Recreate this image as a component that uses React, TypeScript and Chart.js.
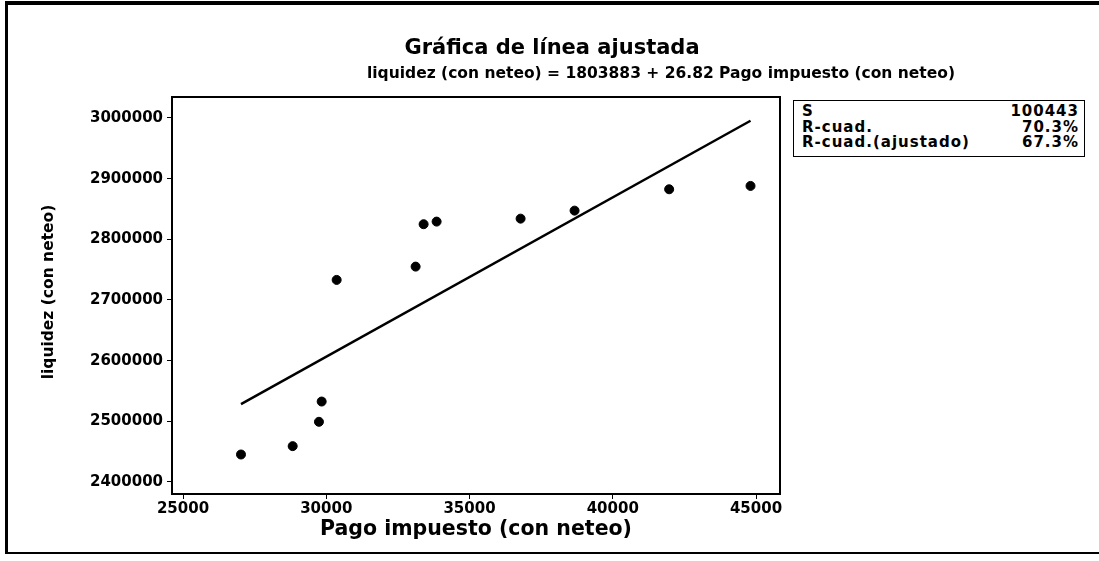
import React, { useEffect, useRef } from "react";
import { Chart, registerables } from "chart.js";

Chart.register(...registerables);

// Data
const pagoImpuesto = [27024, 28828, 29745, 29840, 30363, 33119, 33398, 33852, 36783, 38667, 41968, 44808];
const liquidez = [2445300, 2459100, 2499200, 2532600, 2733100, 2755000, 2824900, 2829200, 2834100, 2847300, 2882500, 2888000];
// fitted line end points as drawn (at min and max of Pago impuesto)
const fitX = [27024, 44808];
const fitY = [2528300, 2995500];
const xTicks = [25000, 30000, 35000, 40000, 45000];
const yTicks = [2400000, 2500000, 2600000, 2700000, 2800000, 2900000, 3000000];
const statLabels = ["S", "R-cuad.", "R-cuad.(ajustado)"];
const statValues = ["100443", "70.3%", "67.3%"];

const W = 1099;
const H = 561;
const FONT = "'DejaVu Sans', 'Noto Sans', sans-serif";

const framePlugin = {
  id: "frameBox",
  afterDraw(chart: any) {
    const { ctx, chartArea: a } = chart;
    ctx.save();
    ctx.strokeStyle = "#000";
    ctx.lineWidth = 2;
    ctx.strokeRect(a.left, a.top, a.right - a.left, a.bottom - a.top);
    ctx.restore();
  },
};

export default function App() {
  const ref = useRef<HTMLCanvasElement | null>(null);

  useEffect(() => {
    if (!ref.current) return;
    const fit = fitX.map((x, i) => ({ x, y: fitY[i] }));
    const pts = pagoImpuesto.map((x, i) => ({ x, y: liquidez[i] }));
    const tickFont = { family: FONT, weight: "bold" as const, size: 15 };

    const chart = new Chart(ref.current, {
      type: "scatter",
      data: {
        datasets: [
          {
            data: fit,
            showLine: true,
            borderColor: "#000",
            borderWidth: 2.5,
            pointRadius: 0,
            fill: false,
          },
          {
            data: pts,
            backgroundColor: "#000",
            borderColor: "#000",
            pointRadius: 4.5,
            pointStyle: "circle",
          },
        ],
      },
      options: {
        responsive: false,
        animation: false,
        layout: { padding: { left: 0, top: 97, right: W - 780, bottom: 0 } },
        plugins: {
          legend: { display: false },
          tooltip: { enabled: false },
          title: { display: false },
        },
        scales: {
          x: {
            type: "linear",
            position: "bottom",
            min: 24616,
            max: 45837,
            afterBuildTicks: (s: any) => {
              s.ticks = xTicks.map((v) => ({ value: v }));
            },
            afterFit: (s: any) => {
              s.height = H - 494;
            },
            ticks: {
              font: tickFont,
              color: "#000",
              padding: 1,
              maxRotation: 0,
              autoSkip: false,
              callback: (v: any) => String(v),
            },
            grid: { drawOnChartArea: false, tickLength: 5, color: "#000", lineWidth: 1 },
            border: { display: true, color: "#000", width: 2 },
          },
          y: {
            type: "linear",
            min: 2380200,
            max: 3034600,
            afterBuildTicks: (s: any) => {
              s.ticks = yTicks.map((v) => ({ value: v }));
            },
            afterFit: (s: any) => {
              s.width = 172;
            },
            ticks: {
              font: tickFont,
              color: "#000",
              padding: 4,
              autoSkip: false,
              callback: (v: any) => String(v),
            },
            grid: { drawOnChartArea: false, tickLength: 5, color: "#000", lineWidth: 1 },
            border: { display: true, color: "#000", width: 2 },
          },
        },
      },
      plugins: [framePlugin],
    } as any);
    return () => chart.destroy();
  }, []);

  const abs = (s: React.CSSProperties): React.CSSProperties => ({
    position: "absolute",
    whiteSpace: "nowrap",
    fontFamily: FONT,
    fontWeight: "bold",
    color: "#000",
    ...s,
  });

  return (
    <div style={{ position: "fixed", left: 0, top: 0, width: W, height: H, background: "#fff", overflow: "hidden" }}>
      <canvas ref={ref} width={W} height={H} style={{ position: "absolute", left: 0, top: 0 }} />
      <div
        style={{
          position: "absolute",
          left: 5,
          top: 1,
          width: W - 5,
          height: 553,
          boxSizing: "border-box",
          borderTop: "4px solid #000",
          borderLeft: "3px solid #000",
          borderBottom: "2px solid #000",
          pointerEvents: "none",
        }}
      />
      <div style={abs({ left: 552, top: 47, transform: "translate(-50%, -50%)", fontSize: 21 })}>
        Gráfica de línea ajustada
      </div>
      <div style={abs({ left: 661, top: 73, transform: "translate(-50%, -50%)", fontSize: 15.5 })}>
        liquidez (con neteo) = 1803883 + 26.82 Pago impuesto (con neteo)
      </div>
      <div style={abs({ left: 48, top: 292, transform: "translate(-50%, -50%) rotate(-90deg)", fontSize: 15.5 })}>
        liquidez (con neteo)
      </div>
      <div style={abs({ left: 476, top: 528, transform: "translate(-50%, -50%)", fontSize: 20.5 })}>
        Pago impuesto (con neteo)
      </div>
      <div
        style={{
          position: "absolute",
          left: 793,
          top: 100,
          width: 292,
          height: 57,
          boxSizing: "border-box",
          border: "1.5px solid #000",
          padding: "3px 5px 0 8px",
          background: "#fff",
          fontFamily: FONT,
          fontWeight: "bold",
          fontSize: 15,
          lineHeight: "15.5px",
          letterSpacing: 1,
        }}
      >
        {statLabels.map((l, i) => (
          <div key={l} style={{ display: "flex", justifyContent: "space-between" }}>
            <span>{l}</span>
            <span>{statValues[i]}</span>
          </div>
        ))}
      </div>
    </div>
  );
}
